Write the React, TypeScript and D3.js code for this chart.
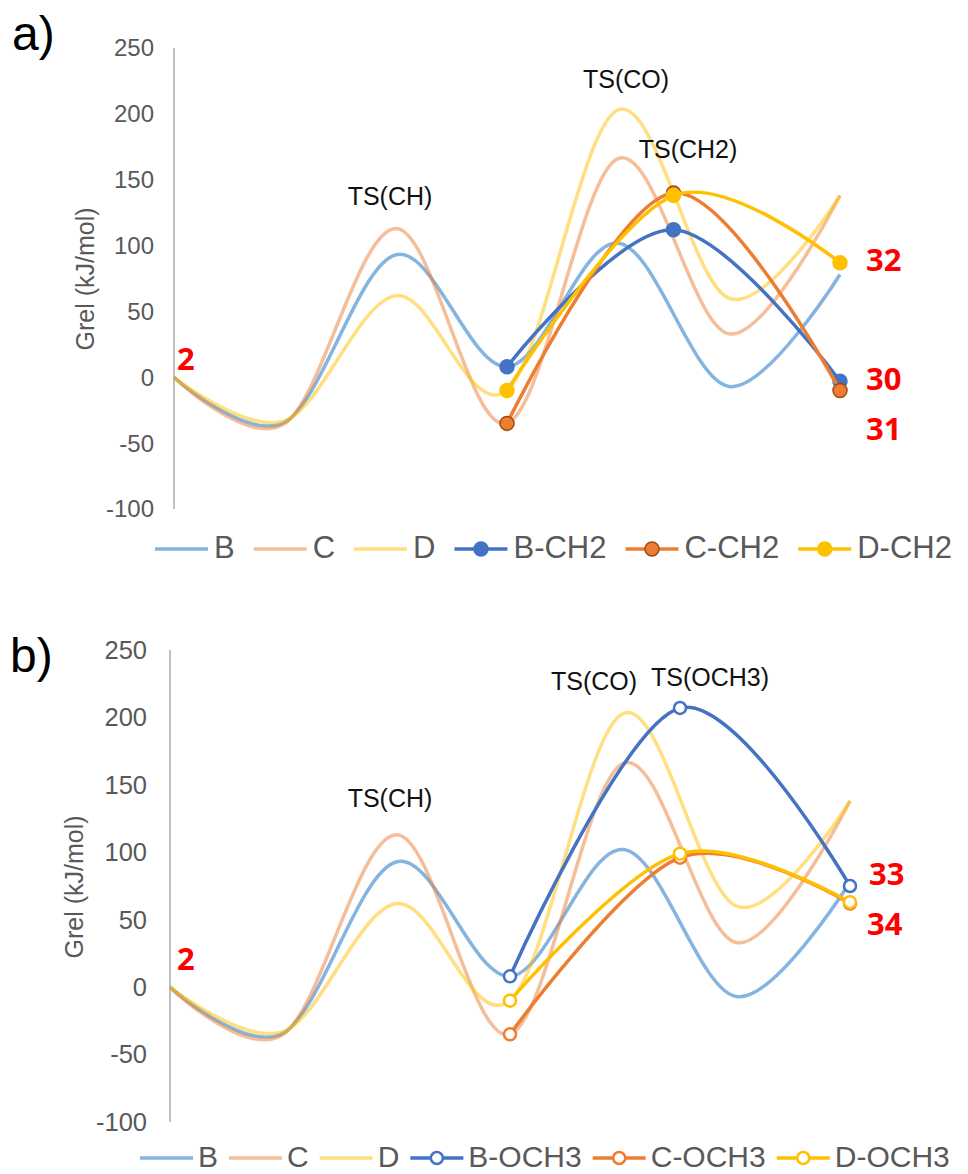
import React, { useEffect, useRef } from 'react'
import * as d3 from 'd3'

// reaction coordinate positions of the common path
const states = [0, 1, 2, 3, 4, 5, 6]
const seriesB = [0, -34, 93, 8, 102, -7, 78]
const seriesC = [0, -35, 113, -35, 166, 33, 138]
const seriesD = [0, -33, 62, -10, 203, 60, 138]

// branch positions (start, TS, product)
const branchX = [3, 4.5, 6]
const bCH2 = [8, 112, -3]
const cCH2 = [-35, 140, -10]
const dCH2 = [-10, 138, 87]
const bOCH3 = [8, 207, 75]
const cOCH3 = [-35, 96, 62]
const dOCH3 = [-10, 99, 63]

const yTicks = [250, 200, 150, 100, 50, 0, -50, -100]

const FONT = "'Liberation Sans', Arial, sans-serif"
const RED_FONT = "'Noto Sans', 'DejaVu Sans', sans-serif"

const light = [
    { name: 'B', values: seriesB, color: '#5B9BD5', opacity: 0.75 },
    { name: 'C', values: seriesC, color: '#ED7D31', opacity: 0.5 },
    { name: 'D', values: seriesD, color: '#FFC000', opacity: 0.5 },
]

const panels = [
    {
        tag: 'a)', tagX: 12, tagY: 50,
        x0: 174, x1: 840, yTop: 48, yBot: 509,
        tickX: 154, tickSize: 24, titleX: 85, titleY: 279, titleSize: 25,
        legendX: 155, legendY: 549, legendGap: 19, textGap: 6, legendSize: 31,
        markerR: 7, open: false,
        branch: [
            { name: 'B-CH2', values: bCH2, color: '#4472C4', edge: '#4472C4' },
            { name: 'C-CH2', values: cCH2, color: '#ED7D31', edge: '#9E4A14' },
            { name: 'D-CH2', values: dCH2, color: '#FFC000', edge: '#FFC000' },
        ],
        ts: [
            { text: 'TS(CH)', x: 390, y: 205 },
            { text: 'TS(CO)', x: 626, y: 88 },
            { text: 'TS(CH2)', x: 688, y: 158 },
        ],
        red: [
            { text: '2', x: 177, y: 370 },
            { text: '32', x: 866, y: 271 },
            { text: '30', x: 866, y: 390 },
            { text: '31', x: 866, y: 440 },
        ],
    },
    {
        tag: 'b)', tagX: 10, tagY: 672,
        x0: 170, x1: 850, yTop: 650, yBot: 1122,
        tickX: 147, tickSize: 25.5, titleX: 74, titleY: 887, titleSize: 25,
        legendX: 140, legendY: 1158, legendGap: 11, textGap: 5, legendSize: 30,
        markerR: 6, open: true,
        branch: [
            { name: 'B-OCH3', values: bOCH3, color: '#4472C4', edge: '#4472C4' },
            { name: 'C-OCH3', values: cOCH3, color: '#ED7D31', edge: '#ED7D31' },
            { name: 'D-OCH3', values: dOCH3, color: '#FFC000', edge: '#FFC000' },
        ],
        ts: [
            { text: 'TS(CH)', x: 390, y: 807 },
            { text: 'TS(CO)', x: 594, y: 690 },
            { text: 'TS(OCH3)', x: 710, y: 686 },
        ],
        red: [
            { text: '2', x: 177, y: 970 },
            { text: '33', x: 869, y: 885 },
            { text: '34', x: 867, y: 935 },
        ],
    },
]

function drawPanel(svg, p) {
    const g = svg.append('g')
    const x = d3.scaleLinear().domain([0, 6]).range([p.x0, p.x1])
    const y = d3.scaleLinear().domain([-100, 250]).range([p.yBot, p.yTop])
    const line = d3.line().x(d => x(d[0])).y(d => y(d[1])).curve(d3.curveCardinal.tension(0))

    // panel tag
    g.append('text').attr('x', p.tagX).attr('y', p.tagY)
        .attr('font-family', FONT).attr('font-size', 48).attr('fill', '#000').text(p.tag)

    // y axis
    g.append('line').attr('x1', p.x0).attr('x2', p.x0).attr('y1', y(250)).attr('y2', y(-100))
        .attr('stroke', '#BFBFBF').attr('stroke-width', 2)
    g.append('g').selectAll('text').data(yTicks).join('text')
        .attr('x', p.tickX).attr('y', d => y(d)).attr('dy', '0.35em')
        .attr('text-anchor', 'end').attr('font-family', FONT).attr('font-size', p.tickSize)
        .attr('fill', '#595959').text(d => d)
    g.append('text').attr('transform', `translate(${p.titleX},${p.titleY}) rotate(-90)`)
        .attr('dy', '0.35em').attr('text-anchor', 'middle').attr('font-family', FONT)
        .attr('font-size', p.titleSize).attr('fill', '#595959').text('Grel (kJ/mol)')

    // light reference paths
    g.append('g').selectAll('path').data(light).join('path')
        .attr('d', s => line(states.map((v, i) => [v, s.values[i]])))
        .attr('fill', 'none').attr('stroke', s => s.color).attr('stroke-opacity', s => s.opacity)
        .attr('stroke-width', 3.5)

    // branch series
    p.branch.forEach(s => {
        const pts = branchX.map((v, i) => [v, s.values[i]])
        g.append('path').attr('d', line(pts)).attr('fill', 'none')
            .attr('stroke', s.color).attr('stroke-width', 3.5)
        g.append('g').selectAll('circle').data(pts).join('circle')
            .attr('cx', d => x(d[0])).attr('cy', d => y(d[1])).attr('r', p.markerR)
            .attr('fill', p.open ? '#fff' : s.color).attr('stroke', s.edge)
            .attr('stroke-width', p.open ? 2.5 : 1.5)
    })

    // annotations
    g.append('g').selectAll('text').data(p.ts).join('text')
        .attr('x', d => d.x).attr('y', d => d.y).attr('text-anchor', 'middle')
        .attr('font-family', FONT).attr('font-size', 25).attr('fill', '#111').text(d => d.text)
    g.append('g').selectAll('text').data(p.red).join('text')
        .attr('x', d => d.x).attr('y', d => d.y).attr('font-family', RED_FONT)
        .attr('font-weight', 700).attr('font-size', 31).attr('fill', '#FF0000').text(d => d.text)

    // legend
    const items = [
        ...light.map(s => ({ name: s.name, color: s.color, opacity: s.opacity, marker: false, edge: s.color })),
        ...p.branch.map(s => ({ name: s.name, color: s.color, opacity: 1, marker: true, edge: s.edge })),
    ]
    let cx = p.legendX
    const lineLen = 53
    items.forEach(it => {
        g.append('line').attr('x1', cx).attr('x2', cx + lineLen).attr('y1', p.legendY).attr('y2', p.legendY)
            .attr('stroke', it.color).attr('stroke-opacity', it.opacity).attr('stroke-width', 3.5)
        if (it.marker) {
            g.append('circle').attr('cx', cx + lineLen / 2).attr('cy', p.legendY).attr('r', p.markerR)
                .attr('fill', p.open ? '#fff' : it.color).attr('stroke', it.edge)
                .attr('stroke-width', p.open ? 2.5 : 1.5)
        }
        const t = g.append('text').attr('x', cx + lineLen + p.textGap).attr('y', p.legendY - 2)
            .attr('dy', '0.36em').attr('font-family', FONT).attr('font-size', p.legendSize)
            .attr('fill', '#595959').text(it.name)
        const w = t.node().getComputedTextLength()
        cx = cx + lineLen + p.textGap + w + p.legendGap
    })
}

export default function App() {
    const svgRef = useRef(null)

    useEffect(() => {
        document.body.style.margin = '0'
        const svg = d3.select(svgRef.current)
        svg.selectAll('*').remove()
        svg.append('rect').attr('width', 968).attr('height', 1174).attr('fill', '#fff')
        panels.forEach(p => drawPanel(svg, p))
    }, [])

    return <svg ref={svgRef} width={968} height={1174} style={{ display: 'block' }} />
}
